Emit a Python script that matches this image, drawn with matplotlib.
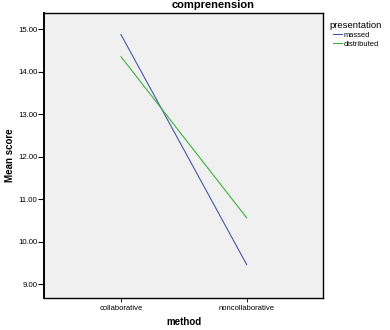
import matplotlib
matplotlib.use("Agg")
import matplotlib.pyplot as plt

methods = ["collaborative", "noncollaborative"]
massed = [14.87, 9.46]
distributed = [14.35, 10.56]
yticks = [9, 10, 11, 12, 13, 14, 15]

plt.rcParams['font.family'] = ['Liberation Sans', 'DejaVu Sans']

fig = plt.figure(figsize=(3.9, 3.3), dpi=100)
ax = fig.add_axes([0.1136, 0.0979, 0.829 - 0.1136, 0.9597 - 0.0979])
ax.set_facecolor('#F0F0F0')

x = list(range(len(methods)))
ax.plot(x, massed, color='#4558A8', lw=0.8, label='massed')
ax.plot(x, distributed, color='#3CB23C', lw=0.8, label='distributed')

ax.set_xlim(-0.61, 1.61)
ax.set_ylim(8.68, 15.37)
ax.set_xticks(x)
ax.set_xticklabels(methods, fontsize=5.5)
ax.set_yticks(yticks)
ax.set_yticklabels([f"{v:.2f}" for v in yticks], fontsize=5.6)
ax.tick_params(axis='y', length=4, width=0.8, pad=1)
ax.tick_params(axis='x', length=3, width=0.6, pad=2)
for s in ax.spines.values():
    s.set_linewidth(1.0)
ax.spines['left'].set_linewidth(1.4)

fig.text(213/390, 1.0, "comprenension", fontsize=8, fontweight='bold',
         ha='center', va='top')
fig.text(184/390, 1 - 322/330, "method", fontsize=7, fontweight='bold',
         ha='center', va='center')
fig.text(10/390, 1 - 155.5/330, "Mean score", fontsize=7, fontweight='bold',
         ha='center', va='center', rotation=90)

fig.text(329.3/390, 1 - 25/330, "presentation", fontsize=6.8,
         ha='left', va='center')
leg = fig.legend(loc='upper left', bbox_to_anchor=(333/390, 1 - 31.5/330), frameon=False,
                 fontsize=5.4, handlelength=1.15, handletextpad=0.2,
                 labelspacing=0.2, borderpad=0, borderaxespad=0)

fig.savefig('out.png', dpi=100)
